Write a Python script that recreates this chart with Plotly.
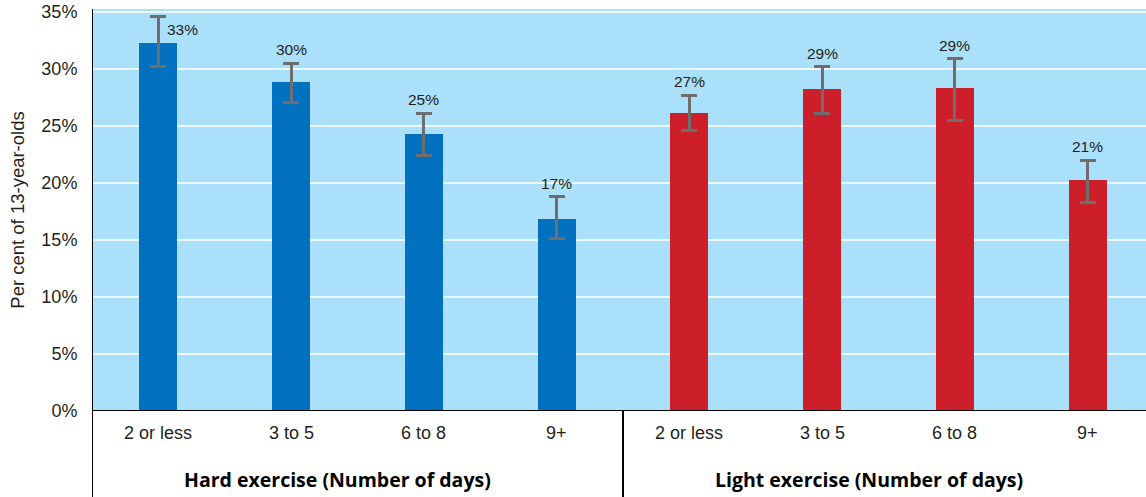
import plotly.graph_objects as go

categories = ["2 or less", "3 to 5", "6 to 8", "9+"]
groups = ["Hard exercise (Number of days)", "Light exercise (Number of days)"]
hard_values = [32.3, 28.9, 24.3, 16.8]
hard_err_plus = [2.3, 1.6, 1.8, 2.0]
hard_err_minus = [2.1, 1.8, 1.9, 1.7]
hard_labels = ["33%", "30%", "25%", "17%"]
light_values = [26.1, 28.2, 28.3, 20.3]
light_err_plus = [1.6, 2.0, 2.6, 1.7]
light_err_minus = [1.5, 2.1, 2.8, 2.0]
light_labels = ["27%", "29%", "29%", "21%"]
y_ticks = [0, 5, 10, 15, 20, 25, 30, 35]

BLUE = "#0070BF"
RED = "#CC1F2A"
BG = "#ABE0FA"
GREY = "#6E6E6E"
FONT = "Liberation Sans, Arial, sans-serif"
TXT = "#231F20"

hard_x = list(range(len(categories)))
light_x = [i + len(categories) for i in range(len(categories))]

fig = go.Figure()
fig.add_trace(go.Bar(
    x=hard_x, y=hard_values, width=0.286, marker=dict(color=BLUE, line=dict(width=0)),
    error_y=dict(type="data", symmetric=False, array=hard_err_plus, arrayminus=hard_err_minus,
                 color=GREY, thickness=3, width=8),
    showlegend=False, hoverinfo="skip"))
fig.add_trace(go.Bar(
    x=light_x, y=light_values, width=0.286, marker=dict(color=RED, line=dict(width=0)),
    error_y=dict(type="data", symmetric=False, array=light_err_plus, arrayminus=light_err_minus,
                 color=GREY, thickness=3, width=8),
    showlegend=False, hoverinfo="skip"))

annotations = []
all_x = hard_x + light_x
all_v = hard_values + light_values
all_p = hard_err_plus + light_err_plus
all_l = hard_labels + light_labels
for i, (x, v, p, l) in enumerate(zip(all_x, all_v, all_p, all_l)):
    if i == 0:
        annotations.append(dict(x=x, y=v + p, text=l, showarrow=False, xref="x", yref="y",
                                xanchor="left", yanchor="middle", xshift=7, yshift=-13,
                                font=dict(family=FONT, size=15.5, color=TXT)))
    else:
        annotations.append(dict(x=x, y=v + p, text=l, showarrow=False, xref="x", yref="y",
                                xanchor="center", yanchor="bottom", yshift=3,
                                font=dict(family=FONT, size=15.5, color=TXT)))

for x, c in zip(all_x, categories + categories):
    annotations.append(dict(x=x, y=0, text=c, showarrow=False, xref="x", yref="paper",
                            xanchor="center", yanchor="middle", yshift=-22,
                            font=dict(family=FONT, size=18, color=TXT)))

annotations.append(dict(x=1.35, y=0, text="<b>" + groups[0] + "</b>", showarrow=False,
                        xref="x", yref="paper", xanchor="center", yanchor="middle", yshift=-68,
                        font=dict(family="Open Sans, sans-serif", size=19.5, color="#000000")))
annotations.append(dict(x=5.35, y=0, text="<b>" + groups[1] + "</b>", showarrow=False,
                        xref="x", yref="paper", xanchor="center", yanchor="middle", yshift=-68,
                        font=dict(family="Open Sans, sans-serif", size=19.5, color="#000000")))

shapes = [
    dict(type="line", xref="x", yref="paper", x0=3.5, x1=3.5, y0=0, y1=-0.25,
         line=dict(color="#000000", width=2)),
    dict(type="line", xref="x", yref="paper", x0=-0.5, x1=-0.5, y0=1, y1=-0.25,
         line=dict(color="#000000", width=2)),
    dict(type="line", xref="paper", yref="y", x0=0, x1=1, y0=0, y1=0,
         line=dict(color="#000000", width=2)),
]

fig.update_layout(
    width=1146, height=497,
    margin=dict(l=92, r=0, t=9, b=86, autoexpand=False),
    paper_bgcolor="white", plot_bgcolor=BG,
    bargap=0, barmode="overlay",
    annotations=annotations, shapes=shapes,
    xaxis=dict(range=[-0.5, 7.44], showticklabels=False, showgrid=False, zeroline=False,
               ticks="", fixedrange=True, automargin=False),
    yaxis=dict(range=[0, 35.26], tickvals=y_ticks, ticktext=[f"{t}%" for t in y_ticks],
               tickfont=dict(family=FONT, size=18, color=TXT), automargin=False,
               ticklabeloverflow="allow",
               showgrid=True, gridcolor="rgba(255,255,255,0.8)", gridwidth=1.5,
               zeroline=False, ticks="outside", ticklen=10, tickcolor="rgba(0,0,0,0)",
               title=dict(text="Per cent of 13-year-olds", standoff=11,
                          font=dict(family=FONT, size=18.5, color=TXT))),
)

# remove the page's default body margin so the figure fills the window exactly
fig.write_html("out.html", config={"displayModeBar": False},
               post_script="document.body.style.margin='0';document.body.style.overflow='hidden';")
